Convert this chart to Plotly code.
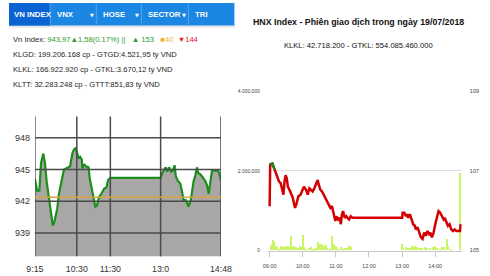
import plotly.graph_objects as go

# ---------------- data ----------------
vn_time = ["9:15","9:19","9:23","9:26","9:30","9:33","9:36","9:40","9:43","9:47",
           "9:50","9:55","9:58","10:03","10:07","10:15","10:18","10:22","10:25","10:28",
           "10:30","10:33","10:36","10:39","10:40","10:43","10:46","10:51","10:53","10:56",
           "11:00","11:03","11:06","11:10","11:15","11:19","11:23","11:26","11:30","13:00",
           "13:03","13:09","13:12","13:15","13:19","13:22","13:25","13:27","13:31","13:35",
           "13:38","13:41","13:45","13:48","13:50","13:54","13:56","13:59","14:02","14:05",
           "14:07","14:12","14:16","14:20","14:23","14:26","14:29","14:32","14:38","14:43",
           "14:46","14:48"]
vn_value = [944.1,943.0,943.0,945.6,946.5,945.6,943.9,942.4,941.0,939.7,
            940.1,941.3,942.7,944.1,945.0,945.2,945.3,946.5,946.9,947.0,
            946.7,946.1,946.2,945.9,945.1,945.5,945.3,945.2,944.2,943.3,
            942.4,941.5,941.6,942.4,942.8,943.2,943.3,944.0,944.2,944.2,
            944.7,945.2,944.8,945.2,944.8,944.9,945.4,944.4,943.9,943.7,
            943.0,942.1,942.1,941.8,941.5,942.1,943.0,943.9,944.4,945.2,
            944.7,944.5,944.2,943.9,943.5,942.7,943.8,944.9,944.9,944.9,
            944.4,943.97]
vn_reference = 942.39
vn_x_ticks = ["9:15","10:30","11:30","13:00","14:48"]
vn_x_ticktext = ["9:15","10:30","11:30","13:0","14:48"]
vn_y_ticks = [939, 942, 945, 948]

hnx_time = ["09:00","09:01","09:05","09:09","09:10","09:12","09:14","09:17","09:20","09:23",
            "09:25","09:27","09:29","09:31","09:33","09:36","09:39","09:42","09:44","09:46",
            "09:49","09:52","09:56","09:59","10:02","10:06","10:09","10:12","10:15","10:18",
            "10:21","10:24","10:27","10:29","10:32","10:35","10:38","10:41","10:44","10:47",
            "10:50","10:53","10:55","10:57","10:59","11:01","11:04","11:07","11:09","11:11",
            "11:13","11:16","11:19","11:21","11:24","11:27","11:30","13:00","13:01","13:04",
            "13:07","13:09","13:11","13:14","13:17","13:20","13:23","13:25","13:28","13:31",
            "13:34","13:37","13:40","13:43","13:46","13:49","13:51","13:54","13:57","14:00",
            "14:03","14:06","14:09","14:12","14:15","14:17","14:20","14:23","14:26","14:29",
            "14:32","14:35","14:38","14:40","14:45","14:46"]
hnx_price = [106.11,107.16,107.18,107.03,106.95,106.89,106.81,106.73,106.69,106.52,
             106.40,106.73,106.89,106.81,106.60,106.52,106.44,106.32,106.19,106.07,
             106.19,106.36,106.40,106.52,106.60,106.52,106.40,106.56,106.52,106.48,
             106.56,106.69,106.77,106.65,106.52,106.48,106.40,106.32,106.23,106.15,
             106.07,106.11,105.99,105.82,105.74,105.86,105.78,105.82,105.66,105.91,
             105.99,105.82,105.86,105.82,105.78,105.86,105.82,105.82,105.95,105.95,
             105.86,105.91,105.82,105.91,105.78,105.66,105.62,105.53,105.58,105.45,
             105.33,105.29,105.45,105.37,105.49,105.41,105.45,105.33,105.45,105.66,
             105.86,105.99,105.95,105.86,105.78,105.82,105.70,105.62,105.66,105.53,
             105.49,105.53,105.49,105.49,105.49,105.66]
hnx_reference = 107.0
hnx_vol_time = ["09:03","09:05","09:07","09:09","09:12","09:14","09:17","09:22","09:26","09:30",
                "09:33","09:36","09:39","09:42","09:45","09:48","09:52","09:55","09:58","10:01",
                "10:03","10:07","10:12","10:15","10:18","10:22","10:25","10:28","10:31","10:33",
                "10:36","10:39","10:42","10:45","10:50","10:54","10:57","11:00","11:04","11:10",
                "11:14","11:17","11:21","11:25","11:28","13:00","13:02","13:07","13:11","13:15",
                "13:18","13:21","13:24","13:28","13:32","13:37","13:42","13:46","13:51","13:57",
                "14:00","14:04","14:09","14:13","14:17","14:21","14:24","14:29","14:46"]
hnx_volume = [123000,165000,272000,206000,123000,82000,41000,107000,99000,107000,
              123000,82000,370000,82000,107000,82000,58000,123000,82000,387000,
              82000,41000,58000,82000,41000,41000,58000,206000,165000,140000,
              165000,123000,140000,58000,41000,370000,165000,107000,41000,82000,
              41000,74000,58000,107000,90000,165000,58000,82000,66000,58000,
              123000,82000,107000,90000,74000,58000,82000,66000,58000,90000,
              107000,74000,41000,82000,99000,288000,123000,41000,1950000]
hnx_x_ticks = ["09:00","10:00","11:00","12:00","13:00","14:00"]
hnx_vol_ticks = [0, 2000000, 4000000]
hnx_vol_ticktext = ["0", "2.000.000", "4.000.000"]
hnx_price_ticks = [105, 107, 109]

tabs = ["VN INDEX", "VNX", "HOSE", "SECTOR", "TRI"]


def to_min(s):
    h, m = s.split(":")
    return int(h) * 60 + int(m)


W, H = 490, 276
FONT = "Liberation Sans, Arial, sans-serif"

fig = go.Figure()

# ---------- left: VN-Index ----------
vx = [to_min(t) for t in vn_time]
fig.add_trace(go.Scatter(x=vx, y=vn_value, mode="lines", fill="tozeroy",
                         fillcolor="#a9a7a5", line=dict(color="#1a8f1a", width=2.2),
                         xaxis="x", yaxis="y", hoverinfo="skip"))

# ---------- right: HNX ----------
hx = [to_min(t) for t in hnx_time]
fig.add_trace(go.Bar(x=[to_min(t) for t in hnx_vol_time], y=hnx_volume, width=3,
                     marker=dict(color="#ccf566", line=dict(width=0)),
                     xaxis="x2", yaxis="y2", hoverinfo="skip"))
fig.add_trace(go.Scatter(x=hx, y=hnx_price, mode="lines",
                         line=dict(color="#d40000", width=2.5),
                         xaxis="x2", yaxis="y3", hoverinfo="skip"))
gx, gy = [], []
for t, p in zip(hx, hnx_price):
    if p >= hnx_reference:
        gx.append(t); gy.append(p)
fig.add_trace(go.Scatter(x=gx, y=gy, mode="lines", fill="toself", fillcolor="#1a8a1a",
                         line=dict(color="#1a8a1a", width=2.5),
                         xaxis="x2", yaxis="y3", hoverinfo="skip"))

def px_x(p):
    return p / W

def px_y(p):
    return 1 - p / H

shapes = []
# grid lines on left chart (drawn above the fill)
for v in vn_y_ticks:
    shapes.append(dict(type="line", xref="x domain", yref="y", x0=0, x1=1, y0=v, y1=v,
                       line=dict(color="#4a4a4a", width=1.5), layer="above"))
for t in vn_x_ticks:
    shapes.append(dict(type="line", xref="x", yref="y domain", x0=to_min(t), x1=to_min(t),
                       y0=0, y1=1, line=dict(color="#4a4a4a", width=1.5), layer="above"))
shapes.append(dict(type="line", xref="x domain", yref="y", x0=0, x1=1, y0=vn_reference,
                   y1=vn_reference, line=dict(color="#d9a441", width=1.5), layer="above"))

# tab bar
shapes.append(dict(type="rect", xref="paper", yref="paper", x0=0, x1=px_x(236),
                   y0=px_y(25), y1=px_y(23), fillcolor="#e4e4e4", line=dict(width=0)))
shapes.append(dict(type="rect", xref="paper", yref="paper", x0=0, x1=px_x(235),
                   y0=px_y(23), y1=1, fillcolor="#1c87e3", line=dict(width=0)))
shapes.append(dict(type="rect", xref="paper", yref="paper", x0=0, x1=px_x(43),
                   y0=px_y(23), y1=1, fillcolor="#0b63d2", line=dict(width=0)))
for sx in [43, 91, 138, 187]:
    shapes.append(dict(type="line", xref="paper", yref="paper", x0=px_x(sx), x1=px_x(sx),
                       y0=px_y(23), y1=1, line=dict(color="#4fa6ef", width=1)))

annotations = []
tab_pos = [3, 48, 96, 143, 192]
for name, x0 in zip(tabs, tab_pos):
    annotations.append(dict(text="<b>%s</b>" % name, x=px_x(x0), y=px_y(12), xref="paper",
                            yref="paper", xanchor="left", yanchor="middle", showarrow=False,
                            font=dict(family=FONT, size=7.8, color="white")))
for ax in [82, 129, 178]:
    annotations.append(dict(text="▼", x=px_x(ax), y=px_y(12), xref="paper", yref="paper",
                            xanchor="left", yanchor="middle", showarrow=False,
                            font=dict(family="DejaVu Sans", size=5, color="white")))

info_lines = [
    "Vn Index: <span style='color:#2f9a2f'>943,97▲1,58(0.17%) ||</span>"
    "   <span style='color:#2f9a2f'>▲ 153</span>   <span style='color:#f2b233'>■40</span>"
    "  <span style='color:#e0201c'>▼144</span>",
    "KLGD: 199.206.168 cp - GTGD:4.521,95 tỷ VND",
    "KLKL: 166.922.920 cp - GTKL:3.670,12 tỷ VND",
    "KLTT: 32.283.248 cp - GTTT:851,83 tỷ VND",
]
for i, line in enumerate(info_lines):
    annotations.append(dict(text=line, x=px_x(2), y=px_y(37 + 15.5 * i), xref="paper",
                            yref="paper", xanchor="left", yanchor="middle", showarrow=False,
                            font=dict(family=FONT, size=7.6, color="#1e1e1e")))

annotations.append(dict(text="<b>HNX Index - Phiên giao dịch trong ngày 19/07/2018</b>",
                        x=px_x(364), y=px_y(19), xref="paper", yref="paper",
                        xanchor="center", yanchor="middle", showarrow=False,
                        font=dict(family=FONT, size=8.8, color="#111")))
annotations.append(dict(text="KLKL: 42.718.200 - GTKL: 554.085.460.000",
                        x=px_x(364), y=px_y(43), xref="paper", yref="paper",
                        xanchor="center", yanchor="middle", showarrow=False,
                        font=dict(family=FONT, size=7.6, color="#111")))

fig.update_layout(
    width=W, height=H, margin=dict(l=0, r=0, t=0, b=0),
    paper_bgcolor="white", plot_bgcolor="white", showlegend=False,
    shapes=shapes, annotations=annotations, bargap=0,
    xaxis=dict(domain=[px_x(27), px_x(221)], range=[to_min("9:15"), to_min("14:48")],
               tickvals=[to_min(t) for t in vn_x_ticks], ticktext=vn_x_ticktext,
               showgrid=False, zeroline=False, showline=False, ticks="outside",
               ticklen=4, tickcolor="rgba(0,0,0,0)",
               tickfont=dict(family=FONT, size=8.8, color="#333")),
    yaxis=dict(domain=[px_y(259), px_y(116)], range=[936.8, 950.0],
               tickvals=vn_y_ticks, showgrid=False, zeroline=False, showline=False,
               ticks="outside", ticklen=2, tickcolor="rgba(0,0,0,0)",
               tickfont=dict(family=FONT, size=9, color="#333")),
    xaxis2=dict(domain=[px_x(270), px_x(472)], range=[537, 888], anchor="y2",
                tickvals=[to_min(t) for t in hnx_x_ticks], ticktext=hnx_x_ticks,
                showgrid=False, zeroline=False, showline=True, linecolor="#c8c8c8",
                ticks="outside", ticklen=5, tickcolor="#c8c8c8", ticklabelstandoff=5,
                tickfont=dict(family=FONT, size=5.5, color="#444")),
    yaxis2=dict(domain=[px_y(253), px_y(90)], range=[0, 4000000], anchor="x2",
                tickvals=hnx_vol_ticks, ticktext=hnx_vol_ticktext,
                showgrid=True, gridcolor="#dcdcdc", gridwidth=1, zeroline=False,
                ticks="outside", ticklen=6, tickcolor="rgba(0,0,0,0)",
                tickfont=dict(family=FONT, size=5, color="#444")),
    yaxis3=dict(domain=[px_y(253), px_y(90)], range=[105, 109], anchor="x2",
                overlaying="y2", side="right", tickvals=hnx_price_ticks,
                showgrid=False, zeroline=False, ticks="outside", ticklen=6,
                tickcolor="rgba(0,0,0,0)",
                tickfont=dict(family=FONT, size=5.5, color="#444")),
)

fig.write_html("out.html")
